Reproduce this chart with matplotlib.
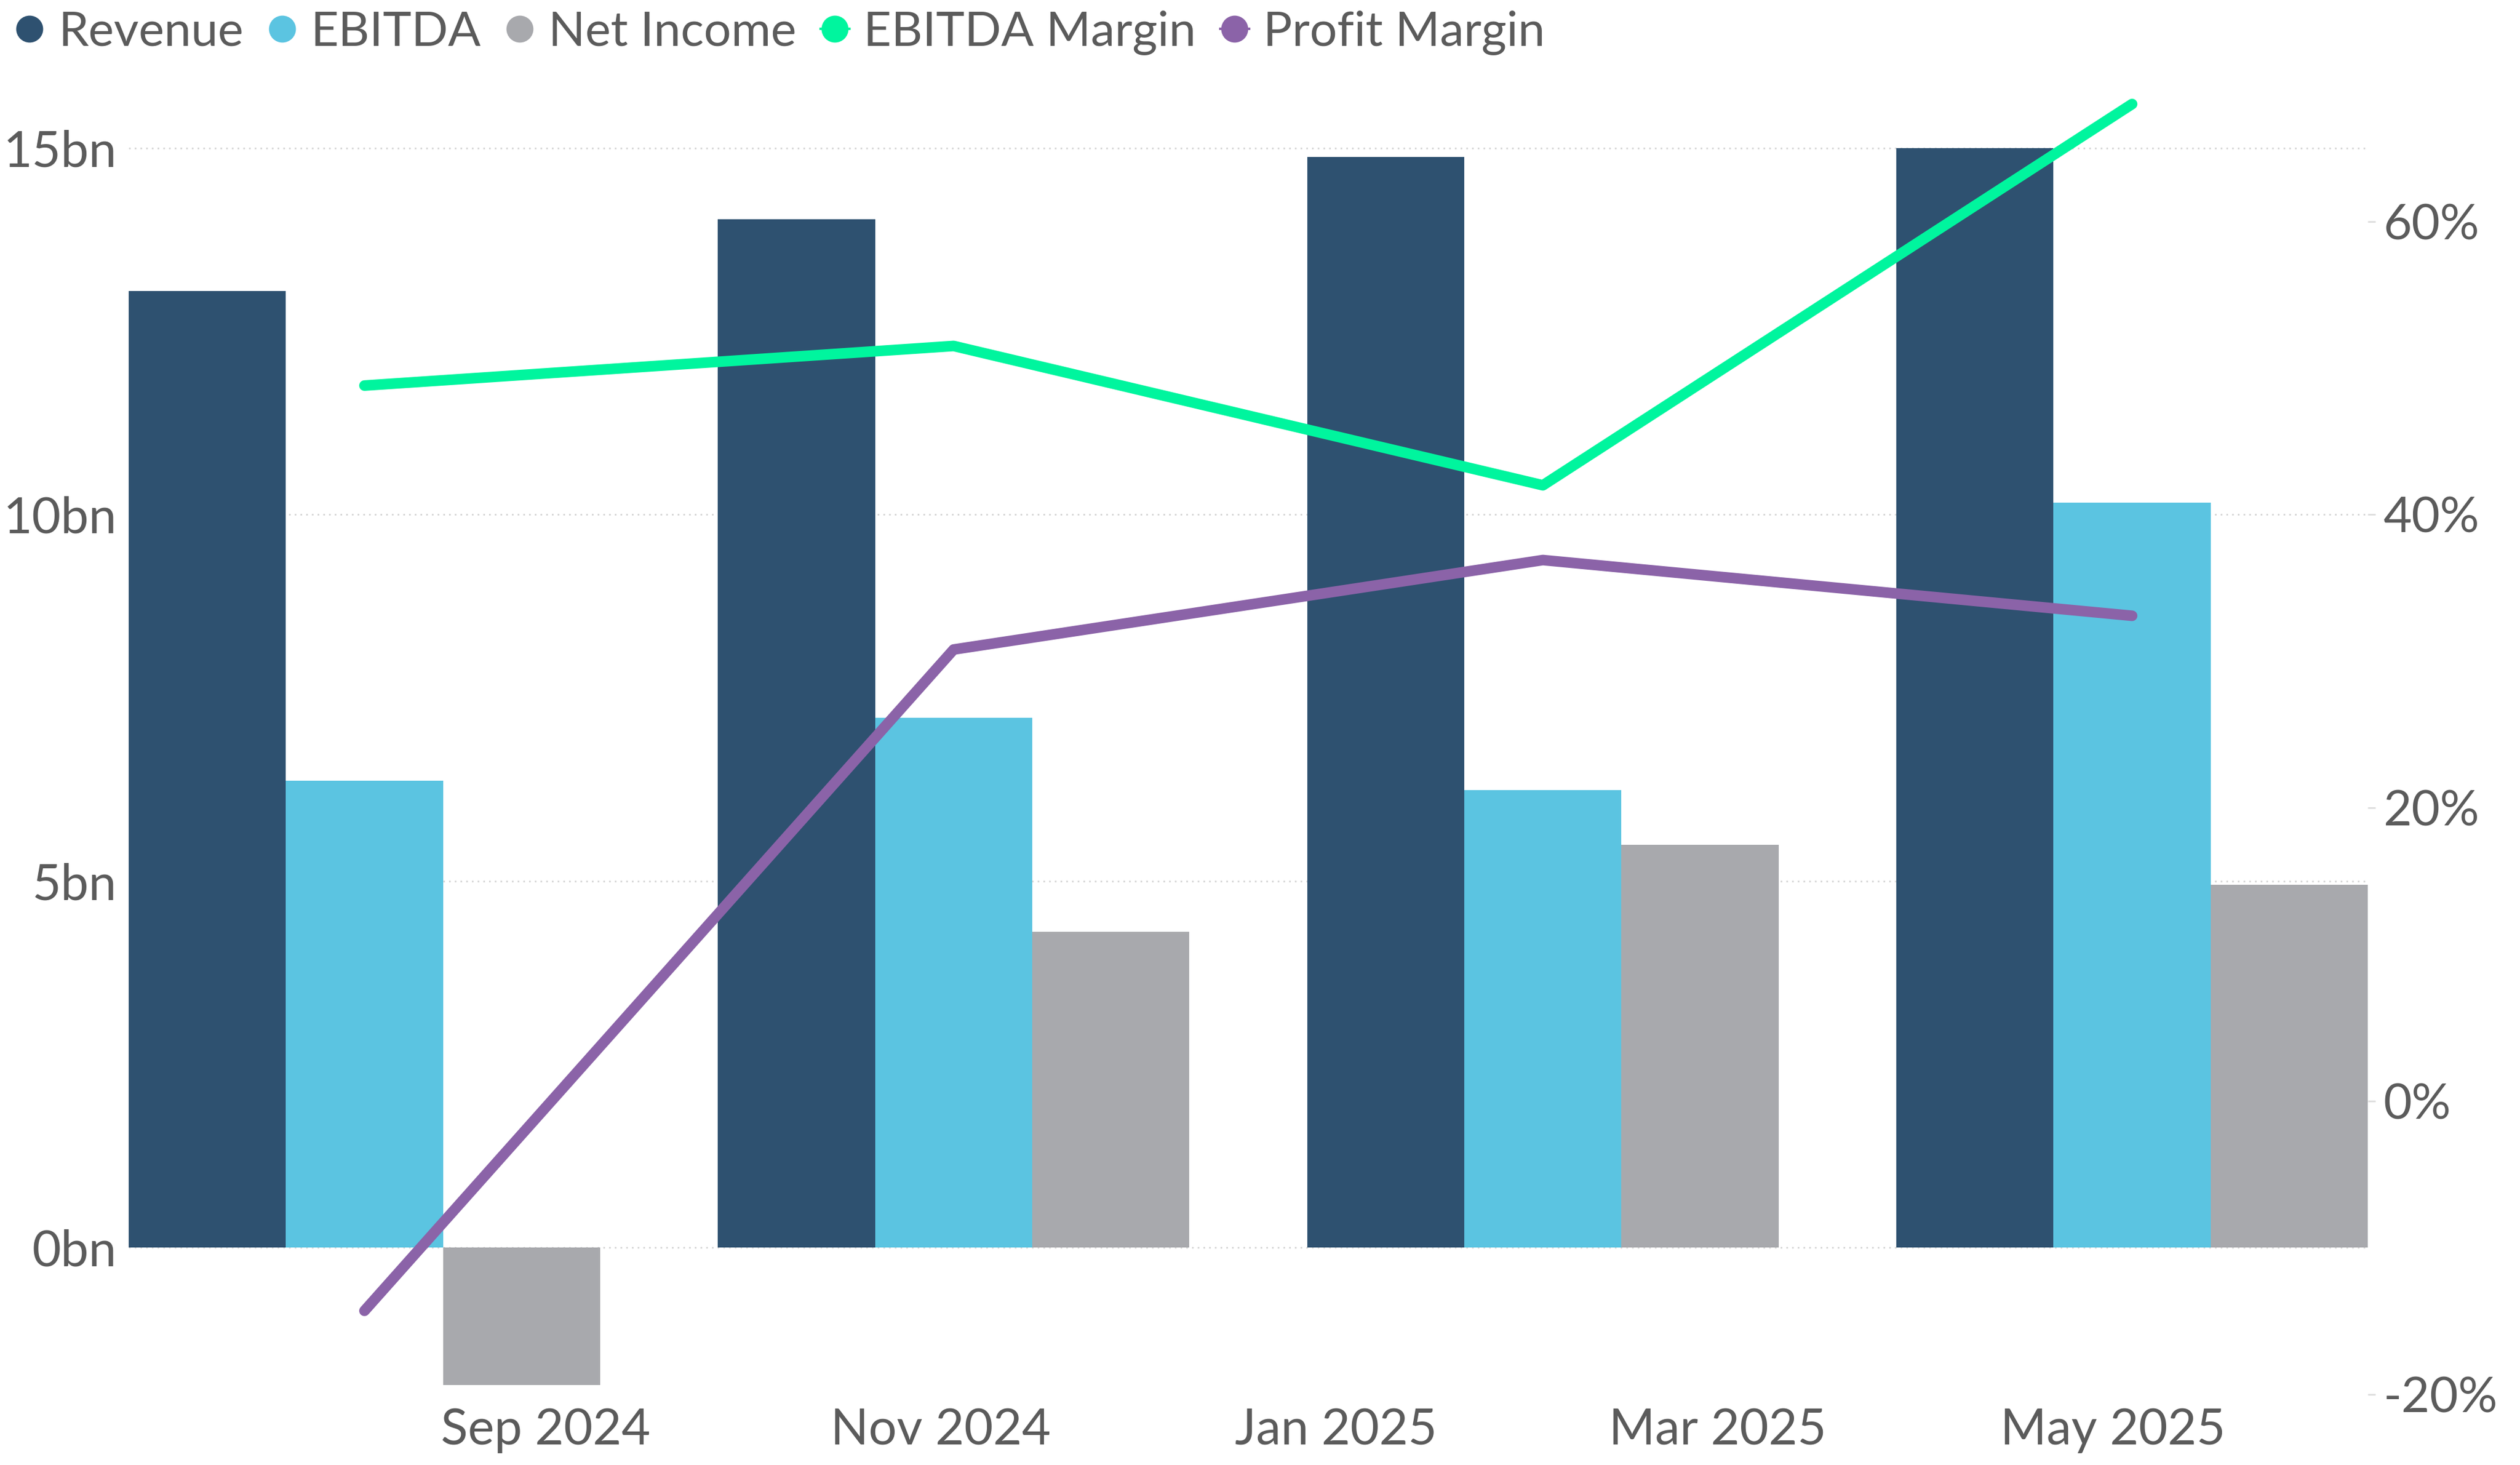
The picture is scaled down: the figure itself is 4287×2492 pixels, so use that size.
import matplotlib
matplotlib.use('Agg')
import matplotlib.pyplot as plt
import matplotlib.dates as mdates
from matplotlib.lines import Line2D
import numpy as np
import datetime as dt

# Dane kwartalne (mld)
periods = ['2024-08-04', '2024-11-03', '2025-02-02', '2025-05-04']
revenue = [13.05, 14.03, 14.88, 15.00]
ebitda = [6.37, 7.23, 6.24, 10.16]
net_income = [-1.87, 4.31, 5.50, 4.95]
ebitda_margin = [48.8, 51.5, 42.0, 68.0]
profit_margin = [-14.3, 30.8, 36.9, 33.1]

tick_dates = ['2024-09-01', '2024-11-01', '2025-01-01', '2025-03-01', '2025-05-01']
tick_labels = ['Sep 2024', 'Nov 2024', 'Jan 2025', 'Mar 2025', 'May 2025']

c_rev = '#2e5170'
c_ebitda = '#5bc4e1'
c_net = '#a8a9ad'
c_em = '#00f59e'
c_pm = '#8b63a8'
c_text = '#5b5b5b'

plt.rcParams['font.family'] = ['Lato', 'DejaVu Sans']

fig = plt.figure(figsize=(42.87, 24.92), dpi=100)
ax = fig.add_axes([0.0511, 0.0482, 0.9396 - 0.0511, 0.9490 - 0.0482])
ax2 = ax.twinx()

x = mdates.date2num([dt.datetime.fromisoformat(d) for d in periods])
w = 91 * 0.8 / 3

ax.bar(x - w, revenue, width=w, color=c_rev, zorder=2)
ax.bar(x, ebitda, width=w, color=c_ebitda, zorder=2)
ax.bar(x + w, net_income, width=w, color=c_net, zorder=2)

ax2.plot(x, ebitda_margin, color=c_em, linewidth=13, solid_capstyle='round', solid_joinstyle='round')
ax2.plot(x, profit_margin, color=c_pm, linewidth=13, solid_capstyle='round', solid_joinstyle='round')

ax.set_xlim(x[0] - 1.5 * w, x[-1] + 1.5 * w)
ax.set_ylim(-2, 16)
ax2.set_ylim(-20, 70)

ax.set_yticks([0, 5, 10, 15])
ax.set_yticklabels([f'{v}bn' for v in [0, 5, 10, 15]])
ax2.set_yticks([-20, 0, 20, 40, 60])
ax2.set_yticklabels([f'{v}%' for v in [-20, 0, 20, 40, 60]])

ax.set_xticks(mdates.date2num([dt.datetime.fromisoformat(d) for d in tick_dates]))
ax.set_xticklabels(tick_labels)

ax.grid(axis='y', color='#d4d4d4', linestyle=(0, (1, 2.5)), linewidth=2, zorder=0)
ax.set_axisbelow(True)

for a in (ax, ax2):
    for s in a.spines.values():
        s.set_visible(False)

ax.tick_params(axis='y', length=0, pad=15, labelsize=61, labelcolor=c_text)
ax.tick_params(axis='x', length=0, pad=16, labelsize=61, labelcolor=c_text)
ax2.tick_params(axis='y', length=9, width=2, color='#dddddd', pad=10, labelsize=60, labelcolor=c_text)

# Legenda
handles = [
    Line2D([], [], linestyle='none', marker='o', markersize=32, color=c_rev),
    Line2D([], [], linestyle='none', marker='o', markersize=32, color=c_ebitda),
    Line2D([], [], linestyle='none', marker='o', markersize=32, color=c_net),
    Line2D([], [], linewidth=3, marker='o', markersize=32, color=c_em),
    Line2D([], [], linewidth=3, marker='o', markersize=32, color=c_pm),
]
labels = ['Revenue', 'EBITDA', 'Net Income', 'EBITDA Margin', 'Profit Margin']
leg = fig.legend(handles, labels, loc='center left', bbox_to_anchor=(0.004, 1 - 56 / 2492),
                 ncol=5, frameon=False, fontsize=59, handlelength=0.6, handletextpad=0.3,
                 columnspacing=0.5, borderaxespad=0, borderpad=0.1)
for t in leg.get_texts():
    t.set_color(c_text)

fig.savefig('out.png', dpi=100)
